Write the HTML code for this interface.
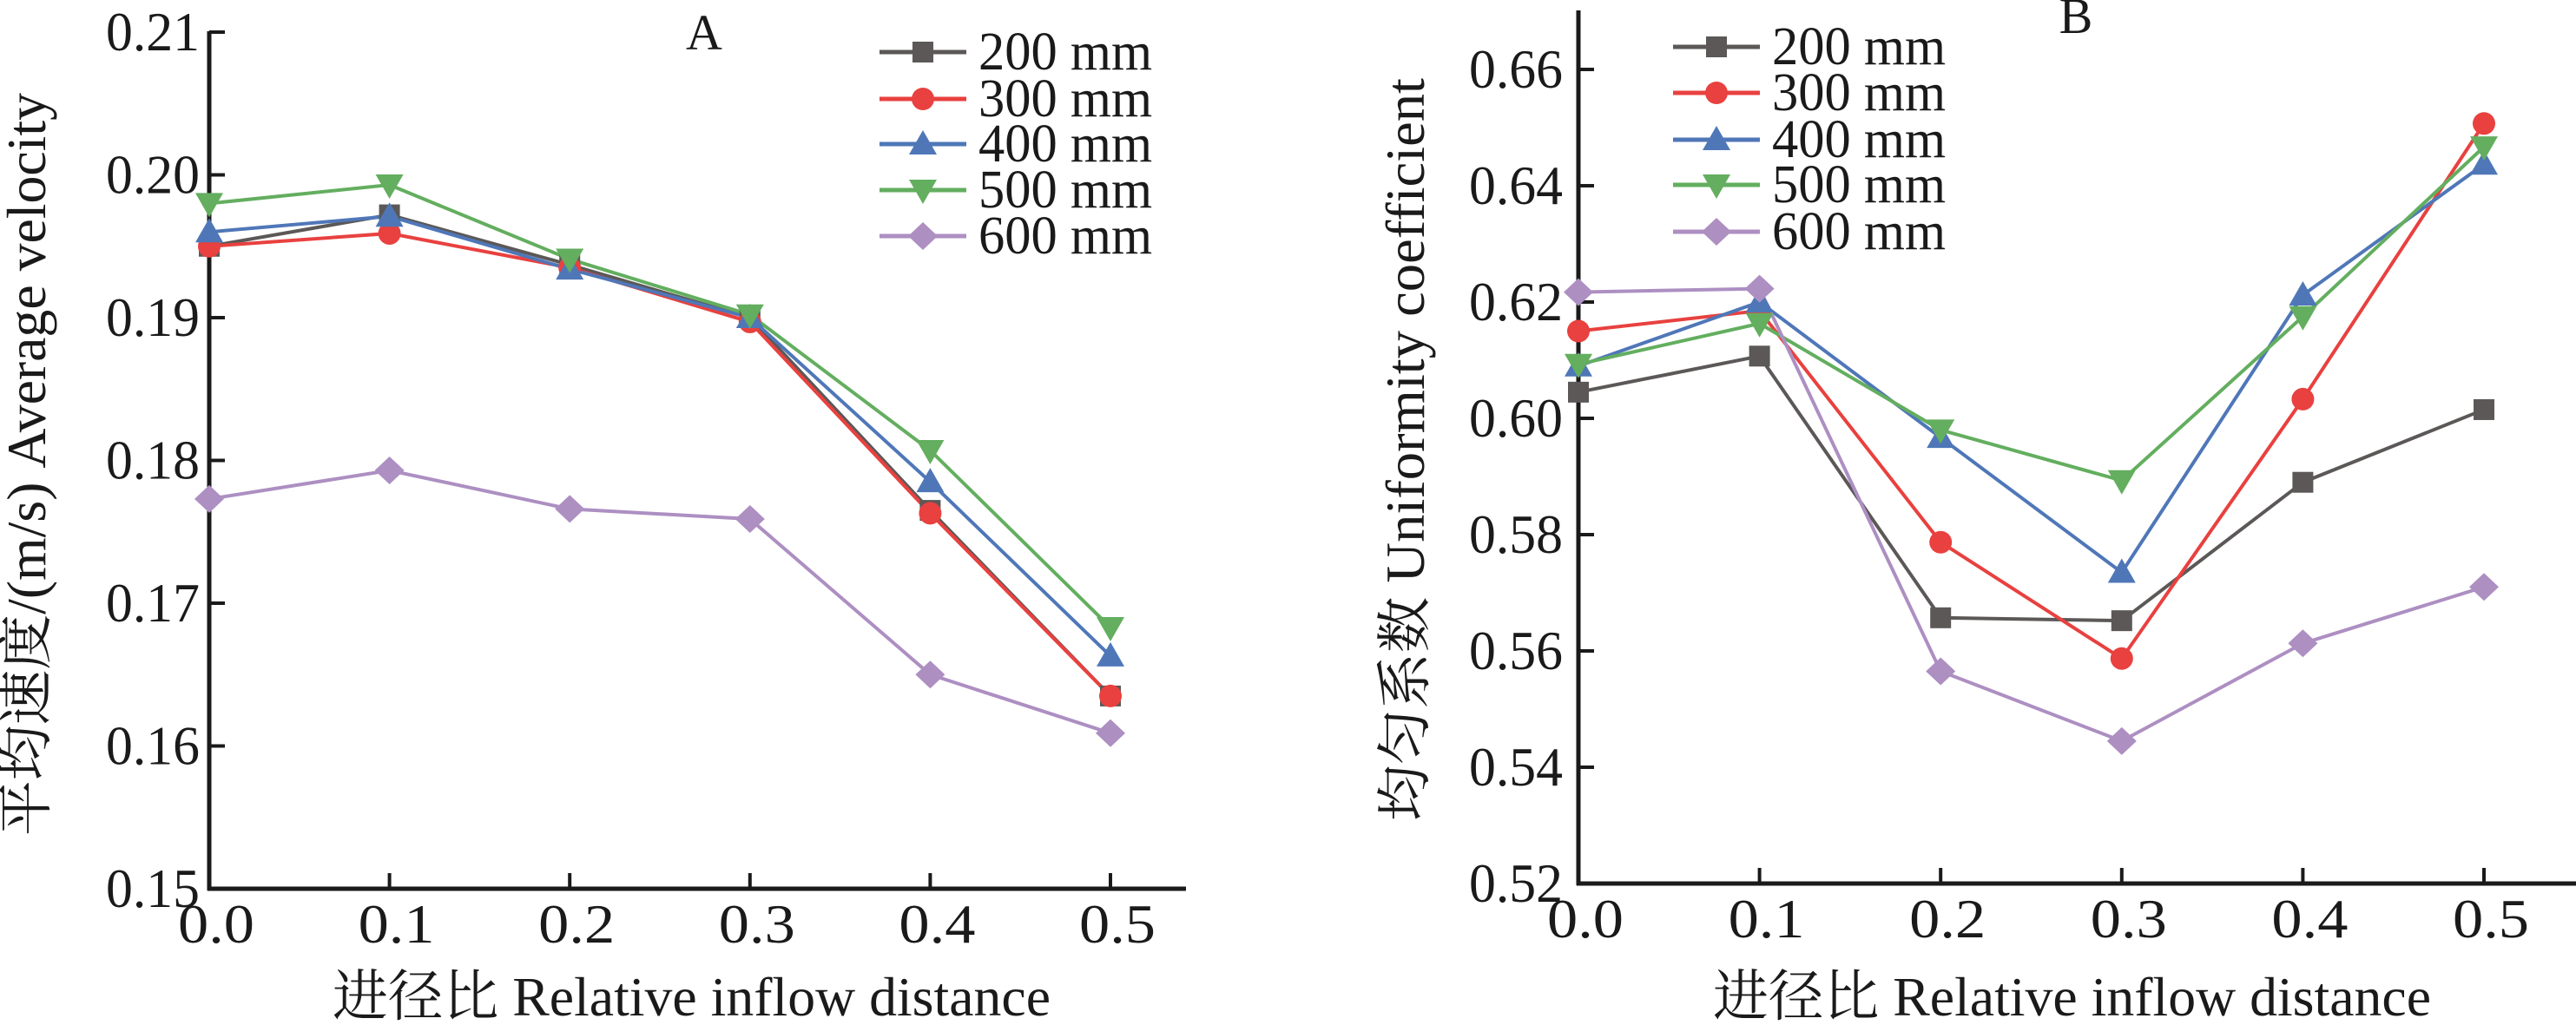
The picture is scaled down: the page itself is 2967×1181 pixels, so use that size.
<!DOCTYPE html>
<html><head><meta charset="utf-8"><style>html,body{margin:0;padding:0;background:#fff}svg{display:block}text{font-family:"Liberation Serif","Noto Serif CJK SC",serif;fill:#1a1a1a}</style></head>
<body>
<svg id="s" width="2967" height="1181" xmlns="http://www.w3.org/2000/svg"></svg>
<script>
const S=document.getElementById('s');let h='';
const cols=['#5b5857','#e8413f','#4f77b8','#63ae5f','#ad8fc2'];
const names=['200 mm','300 mm','400 mm','500 mm','600 mm'];
function mk(t,x,y,c){
 if(t==0)return `<rect x="${x-12}" y="${y-12}" width="24" height="24" fill="${c}"/>`;
 if(t==1)return `<circle cx="${x}" cy="${y}" r="13" fill="${c}"/>`;
 if(t==2)return `<polygon points="${x},${y-16} ${x+16},${y+12} ${x-16},${y+12}" fill="${c}"/>`;
 if(t==3)return `<polygon points="${x},${y+16} ${x+16},${y-12} ${x-16},${y-12}" fill="${c}"/>`;
 return `<polygon points="${x},${y-16} ${x+17},${y} ${x},${y+16} ${x-17},${y}" fill="${c}"/>`;
}
function panel(o){
 const X=v=>o.x0+v*o.dx, Y=v=>o.yb-(v-o.vmin)*o.dy;
 h+=`<line x1="${o.x0}" y1="${o.ytop}" x2="${o.x0}" y2="${o.yb+2}" stroke="#1a1a1a" stroke-width="5"/>`;
 h+=`<line x1="${o.x0-2}" y1="${o.yb}" x2="${o.xend}" y2="${o.yb}" stroke="#1a1a1a" stroke-width="5"/>`;
 for(let i=0;i<=5;i++){const x=X(i*0.1);
  h+=`<line x1="${x}" y1="${o.yb}" x2="${x}" y2="${o.yb-18}" stroke="#1a1a1a" stroke-width="4"/>`;
  h+=`<text x="${x-36}" y="${o.yb+62}" font-size="64" textLength="88" lengthAdjust="spacingAndGlyphs">${(i/10).toFixed(1)}</text>`;}
 o.yt.forEach(v=>{const y=Y(v);
  h+=`<line x1="${o.x0}" y1="${y}" x2="${o.x0+18}" y2="${y}" stroke="#1a1a1a" stroke-width="4"/>`;
  h+=`<text x="${o.lx-108}" y="${y+21}" font-size="64" textLength="108" lengthAdjust="spacingAndGlyphs">${v.toFixed(2)}</text>`;});
 o.d.forEach((a,k)=>{h+=`<polyline fill="none" stroke="${cols[k]}" stroke-width="4" points="${a.map((v,i)=>X(i*0.1)+','+Y(v)).join(' ')}"/>`;});
 o.d.forEach((a,k)=>{a.forEach((v,i)=>h+=mk(k,X(i*0.1),Y(v),cols[k]));});
 o.ly.forEach((y,k)=>{h+=`<line x1="${o.lg}" y1="${y}" x2="${o.lg+100}" y2="${y}" stroke="${cols[k]}" stroke-width="5"/>`+mk(k,o.lg+50,y,cols[k]);
  h+=`<text x="${o.lg+114}" y="${y+20}" font-size="62" textLength="200" lengthAdjust="spacingAndGlyphs">${names[k]}</text>`;});
 h+=`<text x="${o.tx}" y="${o.ty}" font-size="58" text-anchor="middle">${o.t}</text>`;
 h+=`<text x="${o.xt}" y="1170" font-size="64" textLength="827" lengthAdjust="spacingAndGlyphs">进径比  Relative inflow distance</text>`;
 h+=`<text transform="translate(${o.yx},${o.yc}) rotate(-90)" x="0" y="0" font-size="64" text-anchor="middle" textLength="856" lengthAdjust="spacingAndGlyphs">${o.ytl}</text>`;
}
panel({x0:241,dx:2076,yb:1024,vmin:0.15,dy:16450,ytop:36,xend:1366,lx:230,
 yt:[0.15,0.16,0.17,0.18,0.19,0.20,0.21],
 d:[[0.195,0.1972,0.1937,0.1900,0.1765,0.1635],[0.195,0.1959,0.1935,0.1897,0.1763,0.1635],[0.196,0.1971,0.1934,0.1900,0.1785,0.1663],[0.198,0.1993,0.1941,0.1902,0.1807,0.1683],[0.1773,0.1793,0.1766,0.1759,0.1650,0.1609]],
 ly:[60,114,166,219,272],lg:1013,tx:811,ty:57,t:'A',xt:383,yx:52,yc:535,ytl:'平均速度/(m/s)  Average velocity'});
panel({x0:1818,dx:2086,yb:1018,vmin:0.52,dy:6700,ytop:12,xend:2967,lx:1800,
 yt:[0.52,0.54,0.56,0.58,0.60,0.62,0.64,0.66],
 d:[[0.6045,0.6107,0.5657,0.5652,0.589,0.6015],[0.615,0.6185,0.5787,0.5587,0.6033,0.6507],[0.609,0.620,0.5967,0.5735,0.6212,0.6437],[0.6093,0.6163,0.598,0.5893,0.6175,0.6467],[0.6217,0.6223,0.5565,0.5445,0.5613,0.571]],
 ly:[54,107,161,213,267],lg:1927,tx:2391,ty:38,t:'B',xt:1973,yx:1640,yc:518,ytl:'均匀系数  Uniformity coefficient'});
S.innerHTML=h;
</script>
</body></html>
